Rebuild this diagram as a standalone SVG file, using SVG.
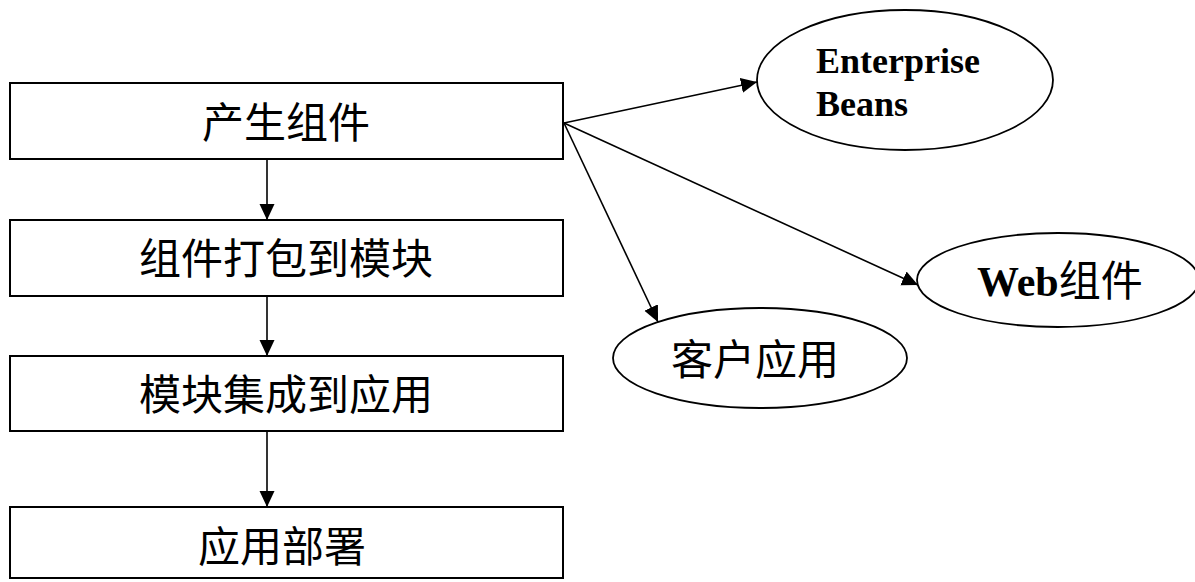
<svg xmlns="http://www.w3.org/2000/svg" width="1195" height="582" viewBox="0 0 1195 582">
<style>
.box{fill:#fff;stroke:#000;stroke-width:2}
.ell{fill:#fff;stroke:#000;stroke-width:1.8}
.cn{font-family:"Liberation Serif","Noto Sans CJK SC",serif;font-size:42px;fill:#000}
.en{font-family:"Liberation Serif","Noto Sans CJK SC",serif;font-size:36px;font-weight:bold;fill:#000}
.edge{stroke:#000;stroke-width:1.6;fill:none;marker-end:url(#arr)}
</style>
<defs>
<marker id="arr" markerUnits="userSpaceOnUse" markerWidth="18" markerHeight="16" refX="16" refY="7.5" orient="auto">
<path d="M0,0 L16,7.5 L0,15 Z" fill="#000"/>
</marker>
</defs>
<rect width="1195" height="582" fill="#fff"/>
<g id="connectors">
<line class="edge" x1="267" y1="159" x2="267" y2="220"/>
<line class="edge" x1="267" y1="296" x2="267" y2="356"/>
<line class="edge" x1="267" y1="431" x2="267" y2="507"/>
<line class="edge" x1="564" y1="123" x2="757" y2="82"/>
<line class="edge" x1="564" y1="123" x2="918" y2="285"/>
<line class="edge" x1="564" y1="123" x2="658" y2="322"/>
</g>
<g id="n1"><rect class="box" x="10" y="83" width="553" height="76"/><text class="cn" x="286" y="124" text-anchor="middle" dominant-baseline="central">产生组件</text></g>
<g id="n2"><rect class="box" x="10" y="220" width="553" height="76"/><text class="cn" x="286" y="260" text-anchor="middle" dominant-baseline="central">组件打包到模块</text></g>
<g id="n3"><rect class="box" x="10" y="356" width="553" height="75"/><text class="cn" x="286" y="396" text-anchor="middle" dominant-baseline="central">模块集成到应用</text></g>
<g id="n4"><rect class="box" x="10" y="507" width="553" height="71"/><text class="cn" x="282" y="548" text-anchor="middle" dominant-baseline="central">应用部署</text></g>
<g id="ejb"><ellipse class="ell" cx="905" cy="80" rx="148" ry="70"/><text class="en" x="816" y="73">Enterprise</text><text class="en" x="816" y="116">Beans</text></g>
<g id="web"><ellipse class="ell" cx="1058" cy="280" rx="141" ry="47"/><text class="cn" x="977" y="296"><tspan font-weight="bold">Web</tspan>组件</text></g>
<g id="client"><ellipse class="ell" cx="760" cy="358" rx="147" ry="50"/><text class="cn" x="755" y="361" text-anchor="middle" dominant-baseline="central">客户应用</text></g>
</svg>
